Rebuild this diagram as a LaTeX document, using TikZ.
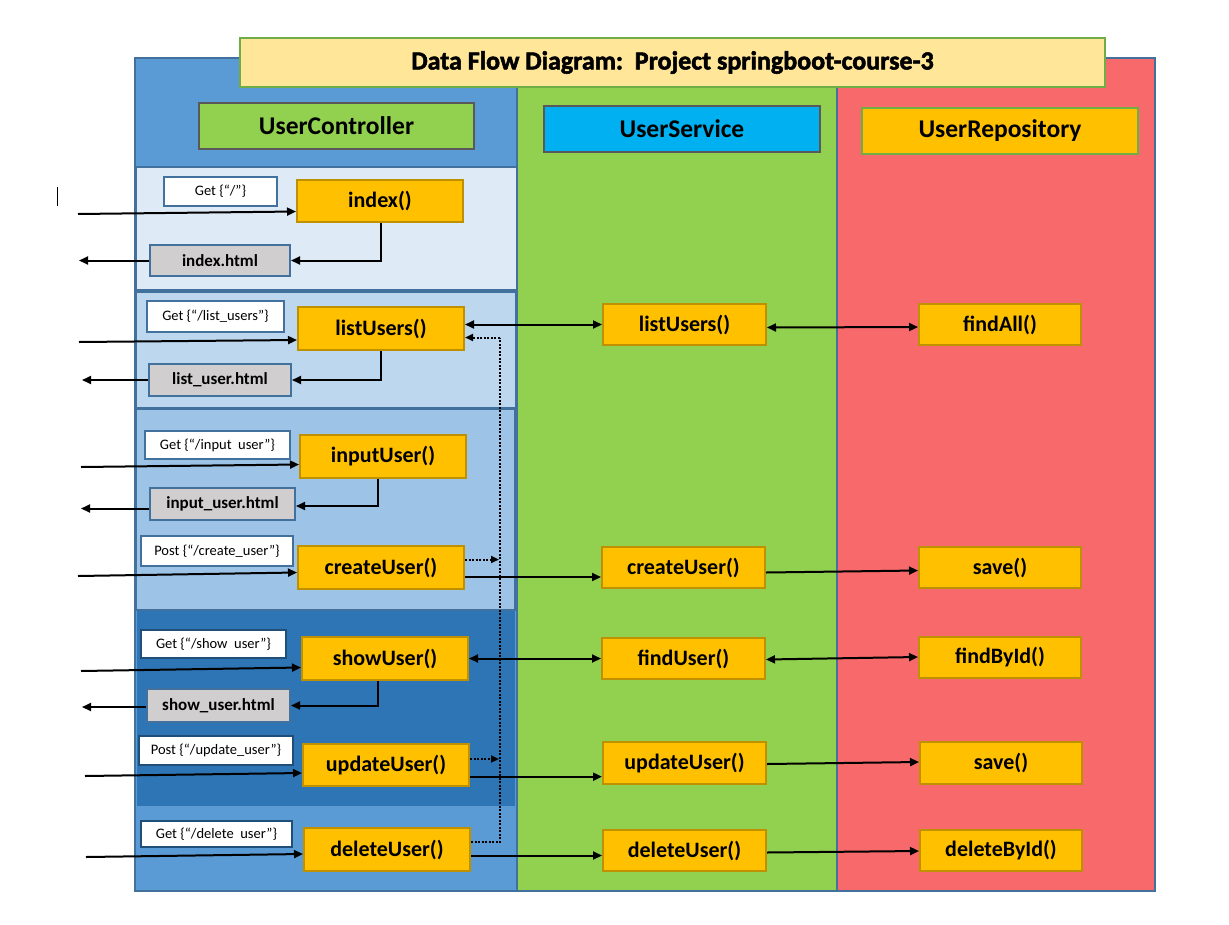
\documentclass[tikz,border=0pt]{standalone}
\usepackage{fontspec}
\setmainfont{Carlito}
\newfontfamily\heavyfont[BoldFeatures={FakeBold=2}]{Carlito}
\usetikzlibrary{arrows.meta,calc}
\definecolor{colblue}{HTML}{5B9BD5}
\definecolor{colgreen}{HTML}{92D050}
\definecolor{colred}{HTML}{F8696B}
\definecolor{bord}{HTML}{41719C}
\definecolor{bordd}{HTML}{1F4E79}
\definecolor{secA}{HTML}{DEEBF7}
\definecolor{secB}{HTML}{BDD7EE}
\definecolor{secC}{HTML}{9DC3E6}
\definecolor{secD}{HTML}{2E75B6}
\definecolor{titlef}{HTML}{FFE699}
\definecolor{titleb}{HTML}{70AD47}
\definecolor{orangef}{HTML}{FFC000}
\definecolor{goldb}{HTML}{BF9000}
\definecolor{greyf}{HTML}{D0CECE}
\definecolor{greyb}{HTML}{595959}
\definecolor{cyanf}{HTML}{00B0F0}
\tikzset{
  box/.style={draw, line width=2pt, inner sep=0pt, align=center},
  mbox/.style={box, draw=goldb, fill=orangef, minimum width=166pt, minimum height=42pt, font=\fontsize{22}{26}\selectfont\bfseries},
  sbox/.style={mbox, minimum width=163pt, minimum height=41pt},
  hbox/.style={box, draw=bord, fill=greyf, font=\fontsize{17}{20}\selectfont\bfseries},
  lbox/.style={box, draw=bord, fill=white, font=\fontsize{14.5}{17}\selectfont},
  headbox/.style={box, minimum width=276pt, minimum height=46pt, font=\fontsize{25.5}{30}\selectfont\bfseries},
  arr/.style={line width=2pt, -{Triangle[length=9pt,width=8pt]}},
  darr/.style={line width=2pt, {Triangle[length=9pt,width=8pt]}-{Triangle[length=9pt,width=8pt]}},
  dotarr/.style={line width=2pt, dash pattern=on 2pt off 1.5pt, -{Triangle[length=8pt,width=7pt]}},
  dotline/.style={line width=2pt, dash pattern=on 2pt off 1.5pt},
}
\begin{document}
\begin{tikzpicture}[x=1pt,y=-1pt]
\useasboundingbox[fill=white] (0,0) rectangle (1229,924);
% columns
\draw[fill=colblue, draw=bord, line width=2pt] (135,58) rectangle (517,891);
\draw[fill=colgreen, draw=bord, line width=2pt] (517,58) rectangle (837,891);
\draw[fill=colred, draw=bord, line width=2pt] (837,58) rectangle (1155,891);
% sections
\draw[fill=secA, draw=bord, line width=2.5pt] (136,167) rectangle (517,290);
\draw[fill=secB, draw=bord, line width=2.5pt] (136,292) rectangle (516,408);
\draw[fill=secC, draw=bord, line width=2pt] (136,409) rectangle (515,610);
\fill[secD] (137,611) rectangle (515,806);
% title
\node[box, draw=titleb, fill=titlef, minimum width=865pt, minimum height=49pt, font=\fontsize{26}{30}\heavyfont\bfseries] (title) at (672.5,62.5) {Data Flow Diagram:\ \ Project springboot-course-3};
% headers
\node[headbox, draw=greyb, fill=colgreen, minimum width=275pt] (hctrl) at (336.5,126) {UserController};
\node[headbox, draw=greyb, fill=cyanf] (hsvc) at (682,129) {UserService};
\node[headbox, draw=titleb, fill=orangef] (hrepo) at (1000,131) {UserRepository};
% controller methods
\node[mbox] (index) at (380,201) {index()};
\node[mbox, minimum height=43pt] (listC) at (381,328.5) {listUsers()};
\node[mbox, minimum height=43pt] (input) at (383,456.5) {inputUser()};
\node[mbox, minimum height=43pt] (createC) at (381,567.5) {createUser()};
\node[mbox, minimum height=43pt] (show) at (385,658.5) {showUser()};
\node[mbox] (updateC) at (386,765) {updateUser()};
\node[mbox, minimum height=43pt] (deleteC) at (387,849.5) {deleteUser()};
% html
\node[hbox, minimum width=140pt, minimum height=31pt] (indexhtml) at (220,260.5) {index.html};
\node[hbox, minimum width=142pt, minimum height=32pt] (listhtml) at (220,380) {list\_user.html};
\node[hbox, minimum width=145pt, minimum height=32pt] (inputhtml) at (222.5,504) {input\_user.html};
\node[hbox, minimum width=143pt, minimum height=33pt] (showhtml) at (218.5,705.5) {show\_user.html};
% labels
\node[lbox, minimum width=113pt, minimum height=29pt] (g1) at (220.5,191.5) {Get \{“/”\}};
\node[lbox, minimum width=137pt, minimum height=31pt] (g2) at (215.5,316.5) {Get \{“/list\_users”\}};
\node[lbox, minimum width=145pt, minimum height=28pt] (g3) at (217.5,445) {Get \{“/input\ \ user”\}};
\node[lbox, minimum width=152pt, minimum height=30pt] (p4) at (217,551) {Post \{“/create\_user”\}};
\node[lbox, draw=bordd, minimum width=145pt, minimum height=28pt] (g5) at (213.5,644) {Get \{“/show\ \ user”\}};
\node[lbox, draw=bordd, minimum width=154pt, minimum height=29pt] (p6) at (216,750.5) {Post \{“/update\_user”\}};
\node[lbox, draw=bordd, minimum width=151pt, minimum height=26pt] (g7) at (216.5,834) {Get \{“/delete\ \ user”\}};
% service
\node[sbox] (listS) at (684.5,324.5) {listUsers()};
\node[sbox] (createS) at (683.5,567.5) {createUser()};
\node[sbox] (findUser) at (683.5,658.5) {findUser()};
\node[sbox, minimum height=42pt] (updateS) at (684.5,763) {updateUser()};
\node[sbox] (deleteS) at (684.5,850.5) {deleteUser()};
% repository
\node[sbox, minimum width=162pt] (findAll) at (1000,324.5) {findAll()};
\node[sbox, minimum width=162pt] (save1) at (1000,567.5) {save()};
\node[sbox, minimum width=162pt] (findById) at (1000,657.5) {findById()};
\node[sbox, minimum width=162pt, minimum height=42pt] (save2) at (1001,763) {save()};
\node[sbox, minimum width=162pt] (deleteById) at (1001,850.5) {deleteById()};
% cursor mark
\draw[line width=1pt] (57,187) -- (57,206);
% free ends
\coordinate (in1) at (78,214);
\coordinate (in2) at (79,342);
\coordinate (in3) at (81,467);
\coordinate (in4) at (78,576);
\coordinate (in5) at (81,671);
\coordinate (in6) at (85,776);
\coordinate (in7) at (86,857);
\coordinate (out1) at (79,260.5);
\coordinate (out2) at (82,380);
\coordinate (out3) at (81,508.5);
\coordinate (out4) at (82,707);
\coordinate (dtop) at (499.5,337.5);
\coordinate (dbot) at (499.5,842);
% incoming
\draw[arr] (in1) -- ($(index.west)+(0,10.5)$);
\draw[arr] (in2) -- ($(listC.west)+(0,11.5)$);
\draw[arr] (in3) -- ($(input.west)+(0,8)$);
\draw[arr] (in4) -- ($(createC.west)+(0,5)$);
\draw[arr] (in5) -- ($(show.west)+(0,9)$);
\draw[arr] (in6) -- ($(updateC.west)+(0,8)$);
\draw[arr] (in7) -- ($(deleteC.west)+(0,4.5)$);
% outgoing html
\draw[arr] (indexhtml.west) -- (out1);
\draw[arr] (listhtml.west) -- (out2);
\draw[arr] ($(inputhtml.west)+(0,4.5)$) -- (out3);
\draw[arr] ($(showhtml.west)+(0,1.5)$) -- (out4);
% method to html
\draw[arr] ($(index.south)+(1,0)$) |- (indexhtml.east);
\draw[arr] (listC.south) |- (listhtml.east);
\draw[arr] ($(input.south)+(-5,0)$) |- ($(inputhtml.east)+(0,2)$);
\draw[arr] ($(show.south)+(-7,0)$) |- (showhtml.east);
% controller - service
\draw[darr] ($(listC.east)+(0,-4)$) -- (listS.west);
\draw[arr] ($(createC.east)+(0,9.5)$) -- ($(createS.west)+(0,9.5)$);
\draw[darr] (show.east) -- (findUser.west);
\draw[arr] ($(updateC.east)+(0,11.7)$) -- ($(updateS.west)+(0,13.7)$);
\draw[arr] ($(deleteC.east)+(0,6)$) -- ($(deleteS.west)+(0,5)$);
% service - repository
\draw[darr] ($(listS.east)+(0,3)$) -- ($(findAll.west)+(0,2.5)$);
\draw[arr] ($(createS.east)+(0,5)$) -- ($(save1.west)+(0,3)$);
\draw[darr] ($(findUser.east)+(0,1)$) -- ($(findById.west)+(0,-0.5)$);
\draw[arr] ($(updateS.east)+(0,1)$) -- ($(save2.west)+(0,-1)$);
\draw[arr] ($(deleteS.east)+(0,2)$) -- ($(deleteById.west)+(0,0.5)$);
% dotted
\draw[dotline] ($(deleteC.east)+(0,-7.5)$) -- (dbot) -- (dtop);
\draw[dotarr] (dtop) -- ($(listC.east)+(0,9)$);
\draw[dotarr] ($(createC.east)+(0,-8)$) -- ++(34,0);
\draw[dotarr] ($(updateC.east)+(0,-6)$) -- ++(29,0);
\end{tikzpicture}
\end{document}
